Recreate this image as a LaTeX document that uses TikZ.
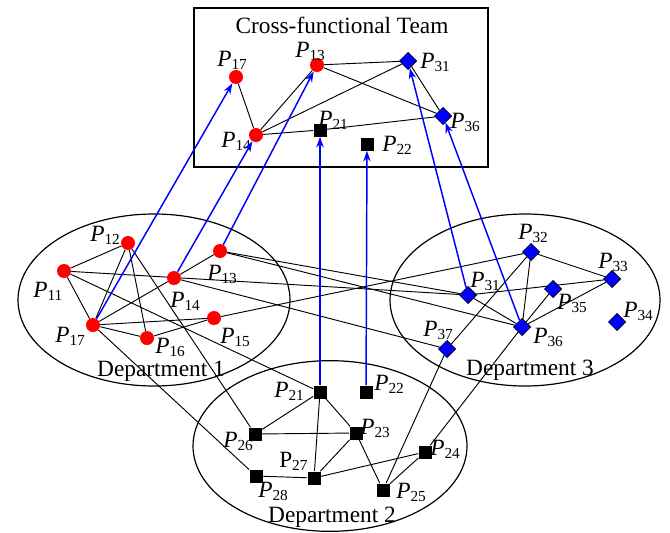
\documentclass[tikz,border=0pt]{standalone}
\usepackage{fontspec}
\setmainfont{Liberation Serif}
\usetikzlibrary{arrows.meta,shapes.geometric}
\pgfdeclarelayer{background}
\pgfsetlayers{background,main}
\newcommand{\memP}[1]{\textit{P}\raisebox{-2.6pt}{\fontsize{11.5}{12}\selectfont #1}}
\newcommand{\memPup}[1]{P\raisebox{-2.6pt}{\fontsize{11.5}{12}\selectfont #1}}

\begin{document}
\begin{tikzpicture}[
    x=0.75pt, y=-0.75pt,
    font=\fontsize{17.5}{20}\selectfont,
    memdot/.style={circle, fill=red, inner sep=0pt, minimum size=10.5pt},
    memsq/.style={rectangle, fill=black, inner sep=0pt, minimum size=9.75pt},
    memdia/.style={diamond, draw=black, fill=blue, inner sep=0pt,
      minimum size=13pt, line width=0.5pt},
    plab/.style={anchor=base west, inner sep=0pt},
    deptlab/.style={anchor=base, inner sep=0pt},
    dept/.style={draw=black, line width=0.9pt},
    link/.style={draw=black, line width=0.7pt},
    arrow/.style={-{Stealth[length=8pt, width=5.5pt]}, draw=blue, line width=1.1pt}
  ]
    \useasboundingbox (0,0) rectangle (670,532);

    % departments and team
    \draw[dept] (154,300) ellipse [x radius=102pt, y radius=64.5pt];
    \draw[dept] (525,300) ellipse [x radius=101.25pt, y radius=64.5pt];
    \draw[dept] (330,446) ellipse [x radius=102.75pt, y radius=64pt];
    \draw[dept] (194,8) rectangle (488,167);
    \node[deptlab] (team) at (342,33) {Cross-functional Team};
    \node[deptlab] (dept1) at (161,376) {Department 1};
    \node[deptlab] (dept2) at (332,522) {Department 2};
    \node[deptlab] (dept3) at (530,375) {Department 3};

    % team members
    \node[memdot] (t17) at (236,77) {};
    \node[memdot] (t13) at (317,65) {};
    \node[memdot] (t14) at (256,135) {};
    \node[memsq] (t21) at (320,130) {};
    \node[memsq] (t22) at (367,144) {};
    \node[memdia] (t31) at (408,61) {};
    \node[memdia] (t36) at (443,116) {};
    \node[plab] (lt17) at (217,66) {\memP{17}};
    \node[plab] (lt13) at (295,57) {\memP{13}};
    \node[plab] (lt14) at (221,147) {\memP{14}};
    \node[plab] (lt21) at (318,126) {\memP{21}};
    \node[plab] (lt22) at (382,151) {\memP{22}};
    \node[plab] (lt31) at (420,68) {\memP{31}};
    \node[plab] (lt36) at (450,128) {\memP{36}};

    % department 1
    \node[memdot] (a11) at (64,271) {};
    \node[memdot] (a12) at (128,243) {};
    \node[memdot] (a13) at (220,251) {};
    \node[memdot] (a14) at (174,278) {};
    \node[memdot] (a15) at (214,318) {};
    \node[memdot] (a16) at (147,338) {};
    \node[memdot] (a17) at (93,325) {};
    \node[plab] (la11) at (33,297) {\memP{11}};
    \node[plab] (la12) at (90,241) {\memP{12}};
    \node[plab] (la13) at (207,280) {\memP{13}};
    \node[plab] (la14) at (170,307) {\memP{14}};
    \node[plab] (la15) at (220,343) {\memP{15}};
    \node[plab] (la16) at (155,353) {\memP{16}};
    \node[plab] (la17) at (55,342) {\memP{17}};

    % department 2
    \node[memsq] (b21) at (320,392) {};
    \node[memsq] (b22) at (366,392) {};
    \node[memsq] (b23) at (356,433) {};
    \node[memsq] (b24) at (425,452) {};
    \node[memsq] (b25) at (383,490) {};
    \node[memsq] (b26) at (255,434) {};
    \node[memsq] (b27) at (314,478) {};
    \node[memsq] (b28) at (256,476) {};
    \node[plab] (lb21) at (274,397) {\memP{21}};
    \node[plab] (lb22) at (374,390) {\memP{22}};
    \node[plab] (lb23) at (360,434) {\memP{23}};
    \node[plab] (lb24) at (430,455) {\memP{24}};
    \node[plab] (lb25) at (396,498) {\memP{25}};
    \node[plab] (lb26) at (223,447) {\memP{26}};
    \node[plab] (lb27) at (279,467) {\memPup{27}};
    \node[plab] (lb28) at (258,497) {\memP{28}};

    % department 3
    \node[memdia] (c31) at (468,295) {};
    \node[memdia] (c32) at (531,252) {};
    \node[memdia] (c33) at (612,279) {};
    \node[memdia] (c34) at (617,322) {};
    \node[memdia] (c35) at (553,289) {};
    \node[memdia] (c36) at (522,327) {};
    \node[memdia] (c37) at (447,349) {};
    \node[plab] (lc31) at (470,287) {\memP{31}};
    \node[plab] (lc32) at (518,239) {\memP{32}};
    \node[plab] (lc33) at (598,268) {\memP{33}};
    \node[plab] (lc34) at (623,317) {\memP{34}};
    \node[plab] (lc35) at (557,309) {\memP{35}};
    \node[plab] (lc36) at (533,343) {\memP{36}};
    \node[plab] (lc37) at (423,336) {\memP{37}};

    % links
    \begin{pgfonlayer}{background}
    \draw[link] (t17) -- (t14);
    \draw[link] (t14) -- (t13);
    \draw[link] (t14) -- (t31);
    \draw[link] (t14) -- (t21);
    \draw[link] (t21) -- (t36);
    \draw[link] (t13) -- (t31);
    \draw[link] (t13) -- (t36);
    \draw[link] (t31) -- (t36);

    \draw[link] (a11) -- (a12);
    \draw[link] (a11) -- (a17);
    \draw[link] (a12) -- (a17);
    \draw[link] (a12) -- (a16);
    \draw[link] (a17) -- (a14);
    \draw[link] (a17) -- (a15);
    \draw[link] (a17) -- (a16);
    \draw[link] (a16) -- (a15);
    \draw[link] (a14) -- (a13);
    \draw[link] (a12) -- (b26);
    \draw[link] (a17) -- (b28);
    \draw[link] (a11) -- (b21);
    \draw[link] (a11) -- (c31);
    \draw[link] (a13) -- (c31);
    \draw[link] (a13) -- (c36);
    \draw[link] (a14) -- (c37);
    \draw[link] (a15) -- (c32);

    \draw[link] (b21) -- (b26);
    \draw[link] (b21) -- (b27);
    \draw[link] (b21) -- (b23);
    \draw[link] (b26) -- (b23);
    \draw[link] (b23) -- (b27);
    \draw[link] (b23) -- (b25);
    \draw[link] (b27) -- (b28);
    \draw[link] (b27) -- (b24);
    \draw[link] (b24) -- (b25);

    \draw[link] (c32) -- (c33);
    \draw[link] (c32) -- (c36);
    \draw[link] (c32) -- (c37);
    \draw[link] (c31) -- (c33);
    \draw[link] (c31) -- (c36);
    \draw[link] (c36) -- (c35);
    \draw[link] (c36) -- (c33);
    \draw[link] (c37) -- (b25);
    \draw[link] (c36) -- (b24);
    \end{pgfonlayer}

    % into the team
    \draw[arrow] (a17) -- (t17);
    \draw[arrow] (a14) -- (t14);
    \draw[arrow] (a13) -- (t13);
    \draw[arrow] (b21) -- (t21);
    \draw[arrow] (b22) -- (t22);
    \draw[arrow] (c31) -- (t31);
    \draw[arrow] (c36) -- (t36);
\end{tikzpicture}
\end{document}
